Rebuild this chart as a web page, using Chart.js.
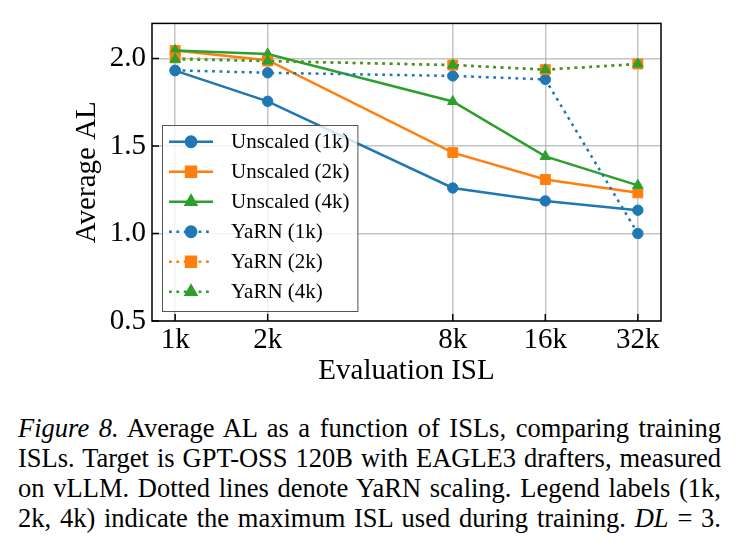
<!DOCTYPE html>
<html>
<head>
<meta charset="utf-8">
<script src="https://cdn.jsdelivr.net/npm/chart.js@4.4.1/dist/chart.umd.min.js"></script>
<style>
  html, body { margin: 0; padding: 0; background: #fff; }
  #wrap { position: relative; width: 738px; height: 547px; overflow: hidden; }
  #chart { position: absolute; left: 0; top: 0; }
  #caption {
    position: absolute; left: 18px; top: 413px; width: 703px;
    font-family: 'Liberation Serif', 'Times New Roman', serif; font-size: 26.5px; line-height: 30px; color: #000;
  }
  #caption div { text-align: justify; text-align-last: justify; white-space: nowrap; }
</style>
</head>
<body>
<div id="wrap">
  <canvas id="chart" width="738" height="400"></canvas>
  <div id="caption">
    <div><i>Figure 8.</i> Average AL as a function of ISLs, comparing training</div>
    <div>ISLs. Target is GPT-OSS 120B with EAGLE3 drafters, measured</div>
    <div>on vLLM. Dotted lines denote YaRN scaling. Legend labels (1k,</div>
    <div>2k, 4k) indicate the maximum ISL used during training. <i>DL</i> = 3.</div>
  </div>
</div>
<script>
// evaluation ISL (tokens) and tick labels
const evalISL = [1024, 2048, 8192, 16384, 32768];
const xTickLabels = ['1k', '2k', '8k', '16k', '32k'];
const yTicks = [0.5, 1.0, 1.5, 2.0];

// average AL per training setting
const unscaled1k = [1.93, 1.755, 1.26, 1.186, 1.133];
const unscaled2k = [2.045, 1.99, 1.462, 1.308, 1.232];
const unscaled4k = [2.045, 2.025, 1.754, 1.44, 1.275];
const yarn1k = [1.932, 1.918, 1.90, 1.88, 1.00];
const yarn2k = [2.003, 1.985, 1.962, 1.936, 1.968];
const yarn4k = [1.995, 1.985, 1.962, 1.936, 1.968];

const seriesNames = ['Unscaled (1k)', 'Unscaled (2k)', 'Unscaled (4k)', 'YaRN (1k)', 'YaRN (2k)', 'YaRN (4k)'];
const seriesValues = [unscaled1k, unscaled2k, unscaled4k, yarn1k, yarn2k, yarn4k];

const BLUE = '#1f77b4', ORANGE = '#ff7f0e', GREEN = '#2ca02c';
const colors = [BLUE, ORANGE, GREEN, BLUE, ORANGE, GREEN];
const markers = ['circle', 'rect', 'triangle', 'circle', 'rect', 'triangle'];
const radii = { circle: 5.2, rect: 7, triangle: 6 };
const FONT = "'Liberation Serif', 'Times New Roman', serif";

const datasets = seriesNames.map((name, i) => ({
  label: name,
  data: evalISL.map((x, j) => ({ x: x, y: seriesValues[i][j] })),
  borderColor: colors[i],
  backgroundColor: colors[i],
  pointBackgroundColor: colors[i],
  pointBorderColor: colors[i],
  pointBorderWidth: 1,
  pointStyle: markers[i],
  pointRadius: radii[markers[i]],
  pointHoverRadius: radii[markers[i]],
  borderWidth: 2.5,
  borderDash: i >= 3 ? [2.8, 4.6] : [],
  borderCapStyle: 'butt',
  tension: 0,
  fill: false,
  order: seriesNames.length - i
}));

// inward ticks + full box frame, like the matplotlib spines
const framePlugin = {
  id: 'frame',
  afterDatasetsDraw(chart) {
    const { ctx, chartArea: a, scales } = chart;
    ctx.save();
    ctx.strokeStyle = '#000';
    ctx.lineWidth = 1.5;
    ctx.beginPath();
    scales.x.ticks.forEach(t => {
      const px = scales.x.getPixelForValue(t.value);
      ctx.moveTo(px, a.bottom); ctx.lineTo(px, a.bottom - 7);
    });
    scales.y.ticks.forEach(t => {
      const py = scales.y.getPixelForValue(t.value);
      ctx.moveTo(a.left, py); ctx.lineTo(a.left + 7, py);
    });
    ctx.stroke();
    ctx.strokeRect(a.left, a.top, a.right - a.left, a.bottom - a.top);
    ctx.restore();
  }
};

// matplotlib-style legend inside the axes, lower left
const legendPlugin = {
  id: 'innerLegend',
  afterDraw(chart) {
    const { ctx, chartArea: a } = chart;
    const sets = chart.data.datasets;
    ctx.save();
    ctx.font = '21px ' + FONT;
    let maxW = 0;
    sets.forEach(d => { maxW = Math.max(maxW, ctx.measureText(d.label).width); });
    const rowH = 30;
    const w = 69 + maxW + 8;
    const h = 186;
    const x0 = a.left + 10;
    const y0 = a.bottom - 10 - h;
    ctx.fillStyle = 'rgba(255,255,255,0.8)';
    ctx.fillRect(x0, y0, w, h);
    ctx.strokeStyle = '#555';
    ctx.lineWidth = 1;
    ctx.strokeRect(x0 + 0.5, y0 + 0.5, w, h);
    sets.forEach((d, i) => {
      const cy = y0 + 16.7 + i * rowH;
      ctx.beginPath();
      ctx.strokeStyle = d.borderColor;
      ctx.lineWidth = d.borderWidth;
      ctx.setLineDash(d.borderDash);
      ctx.moveTo(x0 + 7, cy); ctx.lineTo(x0 + 51, cy);
      ctx.stroke();
      ctx.setLineDash([]);
      Chart.helpers.drawPoint(ctx, {
        pointStyle: d.pointStyle, radius: d.pointRadius, rotation: 0, borderWidth: 1
      }, x0 + 29, cy);
      ctx.fillStyle = d.pointBackgroundColor;
      ctx.fill();
      ctx.fillStyle = '#000';
      ctx.textBaseline = 'middle';
      ctx.textAlign = 'left';
      ctx.fillText(d.label, x0 + 69, cy + 1);
    });
    ctx.restore();
  }
};

new Chart(document.getElementById('chart'), {
  type: 'line',
  data: { datasets: datasets },
  options: {
    responsive: false,
    devicePixelRatio: 1,
    animation: false,
    events: [],
    layout: { padding: { top: 20, right: 77, left: 0, bottom: 0 } },
    plugins: { legend: { display: false }, tooltip: { enabled: false } },
    scales: {
      x: {
        type: 'logarithmic',
        min: 1024 * Math.pow(2, -0.25),
        max: 32768 * Math.pow(2, 0.25),
        afterBuildTicks: s => { s.ticks = evalISL.map(v => ({ value: v })); },
        afterFit: s => { s.height = 79; },
        ticks: {
          callback: (v) => xTickLabels[evalISL.indexOf(v)],
          color: '#000', font: { family: FONT, size: 29 }, padding: 2,
          maxRotation: 0, autoSkip: false
        },
        grid: { color: 'rgba(176,176,176,0.75)', lineWidth: 1.5, drawTicks: false },
        border: { display: false },
        title: {
          display: true, text: 'Evaluation ISL', color: '#000',
          font: { family: FONT, size: 29 }, padding: { top: 0, bottom: 11 }
        }
      },
      y: {
        min: 0.5,
        max: 2.2,
        afterBuildTicks: s => { s.ticks = yTicks.map(v => ({ value: v })); },
        afterFit: s => { s.width = 152; },
        ticks: {
          callback: v => v.toFixed(1),
          color: '#000', font: { family: FONT, size: 29 }, padding: 6
        },
        grid: { color: 'rgba(176,176,176,0.75)', lineWidth: 1.5, drawTicks: false },
        border: { display: false },
        title: {
          display: true, text: 'Average AL', color: '#000',
          font: { family: FONT, size: 29 }, padding: { top: 70, bottom: 0 }
        }
      }
    }
  },
  plugins: [framePlugin, legendPlugin]
});
</script>
</body>
</html>
